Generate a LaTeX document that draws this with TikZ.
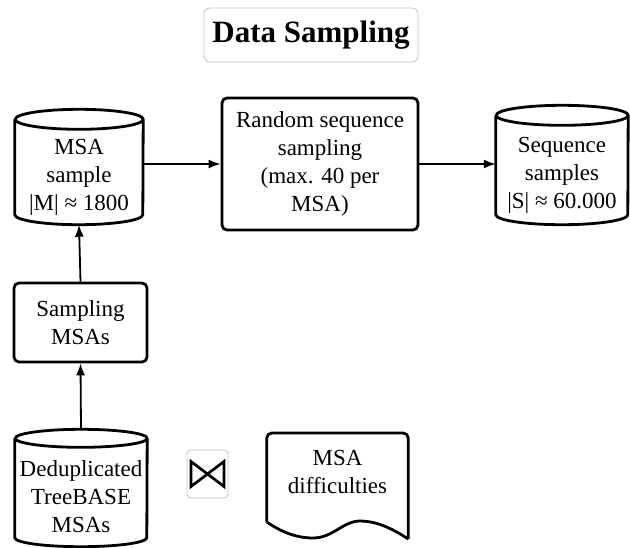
\documentclass[tikz,border=0pt]{standalone}
\usepackage{fontspec}
\setmainfont{Liberation Serif}
\usetikzlibrary{arrows.meta}

% outline of a vertical cylinder around a body node: #1 name, #2 half width, #3 cap radius
\newcommand\cylinderoutline[3]{%
  \draw[shapeline] ([yshift=#3]#1.north west) -- ([yshift=#3]#1.south west)
    arc[start angle=180,end angle=360,x radius=#2,y radius=#3]
    -- ([yshift=#3]#1.north east)
    arc[start angle=0,end angle=360,x radius=#2,y radius=#3];}

\tikzset{
  shapeline/.style={line width=2.8pt, line join=round},
  bodytext/.style={font=\fontsize{23}{28}\selectfont, align=center, inner sep=0pt},
  procbox/.style={bodytext, shapeline, draw, rounded corners=5pt},
  cylbody/.style={bodytext},
  flow/.style={line width=1.8pt, -{Latex[length=12pt,width=9pt]}},
  framebox/.style={draw=black!22, line width=0.9pt, rounded corners=6pt, inner sep=0pt}
}

\begin{document}
\begin{tikzpicture}[x=1pt, y=-1pt]
  \useasboundingbox (0,0) rectangle (630,547);

  % title
  \node[framebox, minimum width=214pt, minimum height=54pt,
        font=\fontsize{31}{36}\selectfont\bfseries] (title) at (311,35) {Data Sampling};

  % top row
  \node[cylbody, minimum width=128pt, minimum height=95pt] (msa) at (79,177)
    {MSA\\sample\\|M| ≈ 1800};
  \cylinderoutline{msa}{64pt}{10pt}

  \node[procbox, minimum width=196pt, minimum height=132pt] (rnd) at (320,164)
    {Random sequence\\sampling\\(max. 40 per\\MSA)};

  \node[cylbody, minimum width=132pt, minimum height=99pt] (seq) at (562,175)
    {Sequence\\samples\\|S| ≈ 60.000};
  \cylinderoutline{seq}{66pt}{10pt}

  % left column
  \node[procbox, minimum width=133pt, minimum height=79pt] (samp) at (80.5,322.5)
    {Sampling\\MSAs};

  \node[cylbody, minimum width=132pt, minimum height=99pt] (ded) at (81,497)
    {Deduplicated\\TreeBASE\\MSAs};
  \cylinderoutline{ded}{66pt}{9pt}

  % join (bowtie) symbol in a light frame
  \node[framebox, rounded corners=4pt, minimum width=41pt, minimum height=48pt] (join) at (207.5,474) {};
  \draw[line width=2.7pt, line join=miter]
    ([shift={(-16.5pt,12.5pt)}]join.center) -- ([shift={(-16.5pt,-12.5pt)}]join.center)
    -- ([shift={(16.5pt,12.5pt)}]join.center) -- ([shift={(16.5pt,-12.5pt)}]join.center) -- cycle;

  % document shape with wavy lower edge
  \node[bodytext, minimum width=141pt, minimum height=74pt] (diff) at (337.5,472)
    {MSA\\difficulties};
  \draw[shapeline, rounded corners=5pt] (diff.south west |- 0,522) -- (diff.west |- 0,433)
    -- (diff.east |- 0,433) [sharp corners] -- (diff.east |- 0,539);
  \draw[shapeline] (diff.east |- 0,539)
    .. controls (390,527) and (375,521) .. (360,521)
    .. controls (343,521) and (333,538) .. (313,538)
    .. controls (295,538) and (280,531) .. (diff.west |- 0,522);

  % connectors
  \draw[flow] ([yshift=18pt]ded.north) -- (samp.south);
  \draw[flow] (samp.north) -- (msa.south);
  \draw[flow] (msa.east |- rnd.west) -- (rnd.west);
  \draw[flow] (rnd.east) -- (seq.west |- rnd.east);
\end{tikzpicture}
\end{document}
